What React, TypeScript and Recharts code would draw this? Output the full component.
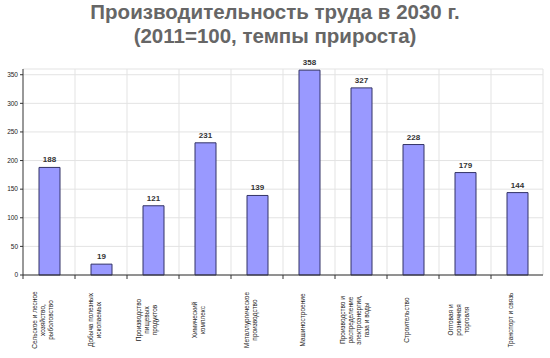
import React from "react";
import { BarChart, Bar, XAxis, YAxis, CartesianGrid, LabelList } from "recharts";

const categories: string[][] = [
  ["Сельское и лесное", "хозяйство,", "рыболовство"],
  ["Добыча полезных", "ископаемых"],
  ["Производство", "пищевых", "продуктов"],
  ["Химический", "комплекс"],
  ["Металлургическое", "производство"],
  ["Машиностроение"],
  ["Производство и", "распределение", "электроэнергии,", "газа и воды"],
  ["Строительство"],
  ["Оптовая и", "розничная", "торговля"],
  ["Транспорт и связь"],
];
const values: number[] = [188, 19, 121, 231, 139, 358, 327, 228, 179, 144];
const yTicks: number[] = [0, 50, 100, 150, 200, 250, 300, 350];

const data = categories.map((lines, i) => ({ name: lines.join("|"), value: values[i] }));

const FONT = "'Liberation Sans', Arial, sans-serif";
const HALF_BAND = 26;

const XTick = (props: any) => {
  const { x, y, payload } = props;
  const lines: string[] = String(payload.value).split("|");
  const lh = 8;
  const cx = x - 7;
  const startX = cx - ((lines.length - 1) * lh) / 2;
  const cy = y + 45;
  return (
    <g>
      <line x1={x - HALF_BAND} y1={y} x2={x - HALF_BAND} y2={y + 4} stroke="#333" strokeWidth={1} />
      {lines.map((l, i) => {
        const lx = startX + i * lh;
        return (
          <text
            key={i}
            x={lx}
            y={cy}
            transform={`rotate(-90, ${lx}, ${cy})`}
            textAnchor="middle"
            dominantBaseline="central"
            fontSize={6.5}
            fontFamily={FONT}
            fill="#222"
          >
            {l}
          </text>
        );
      })}
    </g>
  );
};

export default function App() {
  return (
    <div style={{ position: "absolute", left: 0, top: 0, width: 550, height: 358, background: "#fff" }}>
      <div
        style={{
          position: "absolute",
          left: 0,
          top: 0,
          width: 550,
          textAlign: "center",
          fontFamily: FONT,
          fontWeight: "bold",
          fontSize: 20.5,
          lineHeight: "24px",
          color: "#666",
        }}
      >
        Производительность труда в 2030 г.
        <br />
        (2011=100, темпы прироста)
      </div>
      <BarChart
        width={550}
        height={358}
        data={data}
        margin={{ top: 69, right: 7, left: 0, bottom: 0 }}
        style={{ position: "absolute", left: 0, top: 0 }}
      >
        <CartesianGrid
          stroke="#e3e3e3"
          verticalCoordinatesGenerator={({ offset }: any) =>
            categories.map((_, i) => offset.left + ((i + 1) * offset.width) / categories.length)
          }
        />
        <XAxis
          dataKey="name"
          height={83}
          interval={0}
          tickLine={false}
          tickSize={0}
          tickMargin={0}
          tick={<XTick />}
          stroke="#333"
        />
        <YAxis
          width={23}
          domain={[0, 360]}
          ticks={yTicks}
          tickSize={3}
          stroke="#333"
          tick={{ fontSize: 6.5, fill: "#222", fontFamily: FONT }}
        />
        <Bar dataKey="value" fill="#9999ff" stroke="#333366" strokeWidth={1} barSize={21} isAnimationActive={false}>
          <LabelList
            dataKey="value"
            position="top"
            offset={5}
            style={{ fontSize: 8, fontWeight: "bold", fill: "#333", fontFamily: FONT }}
          />
        </Bar>
      </BarChart>
    </div>
  );
}
